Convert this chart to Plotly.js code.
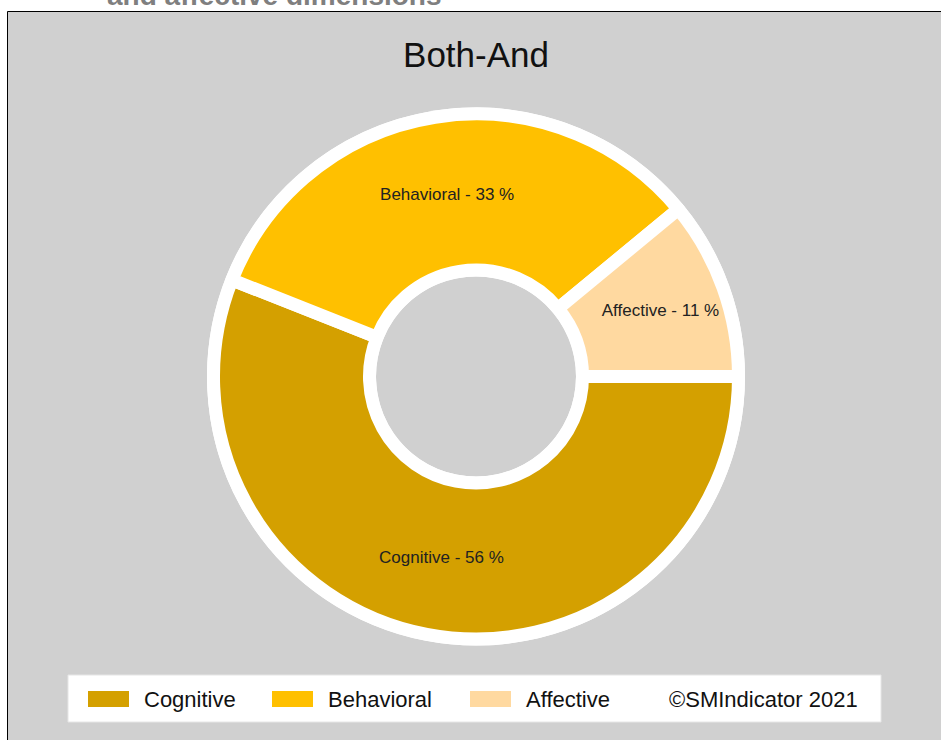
<!DOCTYPE html>
<html>
<head>
<meta charset="utf-8">
<script src="https://cdn.plot.ly/plotly-3.0.1.min.js"></script>
<style>
  html, body { margin: 0; padding: 0; background: #ffffff; }
  #chart { width: 941px; height: 740px; }
</style>
</head>
<body>
<div id="chart"></div>
<script>
// ---- data ----
const categories = ["Cognitive", "Behavioral", "Affective"];
const shares = [56, 33, 11];
const sliceColors = ["#D4A000", "#FFC000", "#FFD9A0"];
const chartTitle = "Both-And";
const topCaption = "and affective dimensions";
const creditText = "\u00A9SMIndicator 2021";

// ---- layout constants (pixels) ----
const W = 941, H = 740;
const px = x => x / W;
const py = y => 1 - y / H;
const CX = 476, CY = 376.5;      // pie centre
const R = 262.5;                 // pie radius (incl. half the border stroke)
const BORDER = 13;               // white gap between slices
const INNER_EDGE = 113;          // visible inner edge of coloured ring
const OUTER_WHITE = 269, INNER_GRAY = 100;
const legendSwatchX = [88, 272, 470];
const legendTextX = [142, 326, 524];
const creditX = 667;
const legendY = 699;

const fontFam = "Liberation Sans, Arial, sans-serif";

const trace = {
  type: "pie",
  labels: categories,
  values: shares,
  sort: false,
  direction: "clockwise",
  rotation: 90,
  hole: (INNER_EDGE - BORDER / 2) / R,
  marker: { colors: sliceColors, line: { color: "#ffffff", width: BORDER } },
  texttemplate: "%{label} - %{value} %",
  textposition: "inside",
  insidetextorientation: "horizontal",
  textfont: { family: fontFam, size: 17, color: "#222222" },
  hoverinfo: "label+percent",
  domain: { x: [px(CX - R), px(CX + R)], y: [py(CY + R), py(CY - R)] },
  showlegend: false
};

const shapes = [
  // panel background with border
  { type: "rect", xref: "paper", yref: "paper", layer: "below",
    x0: px(7.5), x1: px(W + 5), y0: py(H + 5), y1: py(11.5),
    fillcolor: "#D0D0D0", line: { color: "#000000", width: 1 } },
  // white ring around the donut
  { type: "circle", xref: "paper", yref: "paper", layer: "below",
    x0: px(CX - OUTER_WHITE), x1: px(CX + OUTER_WHITE),
    y0: py(CY + OUTER_WHITE), y1: py(CY - OUTER_WHITE),
    fillcolor: "#ffffff", line: { width: 0 } },
  // grey centre
  { type: "circle", xref: "paper", yref: "paper", layer: "below",
    x0: px(CX - INNER_GRAY), x1: px(CX + INNER_GRAY),
    y0: py(CY + INNER_GRAY), y1: py(CY - INNER_GRAY),
    fillcolor: "#D0D0D0", line: { width: 0 } },
  // legend box
  { type: "rect", xref: "paper", yref: "paper", layer: "below",
    x0: px(68), x1: px(881), y0: py(722), y1: py(675),
    fillcolor: "#ffffff", line: { color: "#e6e6e6", width: 1 } }
];

const annotations = [
  { text: topCaption, xref: "paper", yref: "paper", x: px(105), y: py(13),
    xanchor: "left", yanchor: "bottom", showarrow: false,
    font: { family: fontFam, size: 28, color: "#7F7F7F", weight: "bold" } }
];

categories.forEach((c, i) => {
  shapes.push({ type: "rect", xref: "paper", yref: "paper", layer: "above",
    x0: px(legendSwatchX[i]), x1: px(legendSwatchX[i] + 41),
    y0: py(legendY + 8), y1: py(legendY - 8),
    fillcolor: sliceColors[i], line: { width: 0 } });
  annotations.push({ text: c, xref: "paper", yref: "paper",
    x: px(legendTextX[i]), y: py(legendY), xanchor: "left", yanchor: "middle",
    showarrow: false, font: { family: fontFam, size: 22, color: "#111111" } });
});
annotations.push({ text: creditText, xref: "paper", yref: "paper",
  x: px(creditX), y: py(legendY), xanchor: "left", yanchor: "middle",
  showarrow: false, font: { family: fontFam, size: 22, color: "#111111" } });

const layout = {
  width: W, height: H, autosize: false,
  margin: { l: 0, r: 0, t: 0, b: 0, pad: 0 },
  paper_bgcolor: "#ffffff",
  plot_bgcolor: "rgba(0,0,0,0)",
  title: { text: chartTitle, x: px(CX), xanchor: "center", y: py(55), yanchor: "middle",
           yref: "container", font: { family: fontFam, size: 35, color: "#111111" } },
  showlegend: false,
  shapes: shapes,
  annotations: annotations
};

Plotly.newPlot("chart", [trace], layout, { displayModeBar: false, staticPlot: true });
</script>
</body>
</html>
